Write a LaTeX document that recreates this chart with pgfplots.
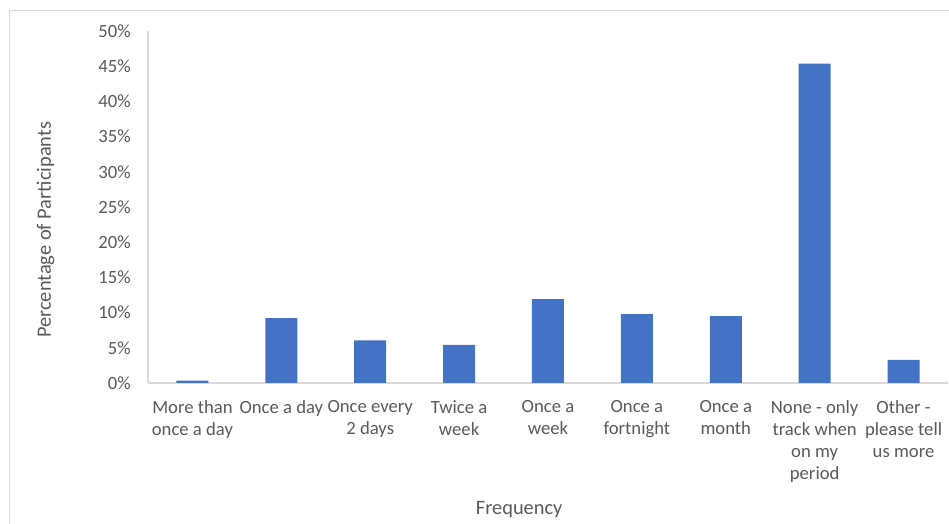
\documentclass[border=0pt]{standalone}
\usepackage{pgfplots}
\pgfplotsset{compat=1.18}
\usepackage{fontspec}
\setmainfont{Carlito}
\definecolor{barblue}{HTML}{4472C4}
\definecolor{txt}{HTML}{595959}
\definecolor{axl}{HTML}{D9D9D9}
\begin{document}
\begin{tikzpicture}
\path[use as bounding box] (0,0) rectangle (711.75pt,393pt);
\draw[axl, line width=0.75pt] (6.75pt,384.75pt) -- (6.75pt,-20pt);
\draw[axl, line width=0.75pt] (6.75pt,384.75pt) -- (760pt,384.75pt);
\begin{axis}[
  at={(111pt,105.75pt)}, anchor=south west,
  scale only axis, width=600pt, height=264pt,
  xmin=-0.5, xmax=8.5, ymin=0, ymax=50,
  ytick={0,5,...,50},
  yticklabel={\pgfmathprintnumber{\tick}\%},
  xtick={0,...,8},
  xticklabels={{More than\\once a day},{Once a day},{Once every\\2 days},{Twice a\\week},{Once a\\week},{Once a\\fortnight},{Once a\\month},{None - only\\track when\\on my\\period},{Other -\\please tell\\us more}},
  axis x line*=bottom, axis y line*=left,
  axis line style={axl, line width=0.9pt, -},
  major tick length=0pt, tick style={draw=none},
  /pgf/number format/assume math mode=true,
  every tick label/.append style={font=\fontsize{14}{16.5}\selectfont, text=txt},
  yticklabel style={inner sep=0pt, xshift=-12.75pt},
  xticklabel style={align=center, inner sep=0pt, yshift=-13pt, anchor=north},
  ylabel={Percentage of Participants},
  ylabel style={at={(axis description cs:-0.128,0.435)}, anchor=center, font=\fontsize{15.3}{18}\selectfont, text=txt, rotate=0},
  xlabel={Frequency},
  xlabel style={at={(axis description cs:0.464,-0.36)}, anchor=center, font=\fontsize{15.3}{18}\selectfont, text=txt},
  clip=false,
]
\addplot[ybar, bar width=24pt, fill=barblue, draw=none] coordinates {
  (0,0.33) (1,9.2) (2,6.06) (3,5.4) (4,11.9) (5,9.8) (6,9.5) (7,45.35) (8,3.3)
};
\end{axis}
\end{tikzpicture}
\end{document}
